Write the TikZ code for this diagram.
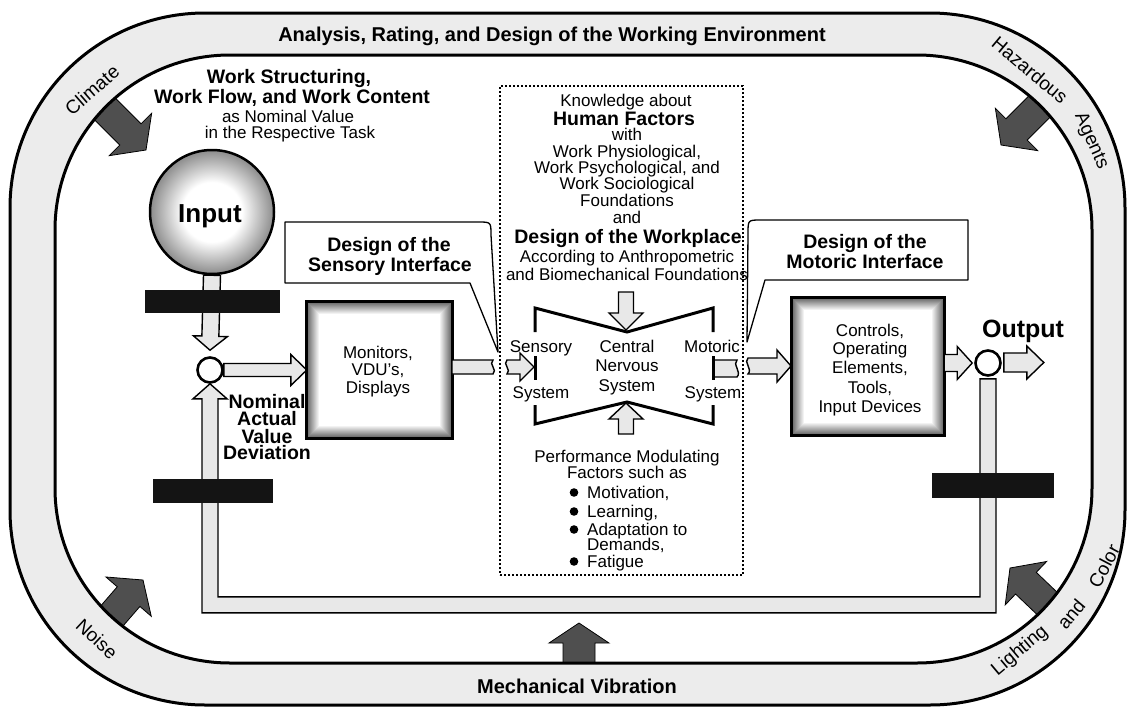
\documentclass[tikz,border=0pt]{standalone}
\usepackage{fontspec}
\setmainfont{Liberation Sans}
\usetikzlibrary{calc}
\definecolor{bandgray}{HTML}{ECECEC}
\definecolor{pipegray}{HTML}{E8E8E8}
\definecolor{darkfill}{HTML}{4F4F4F}
\newcommand\fsz[1]{\fontsize{#1}{#1}\selectfont}
\pgfdeclareradialshading{inshade}{\pgfpoint{0bp}{0bp}}{color(0bp)=(white); color(12bp)=(white); color(24bp)=(black!42); color(25bp)=(black!45); color(50bp)=(black!45)}
\newcommand\barrow[6][]{%
  \coordinate (baT) at (#2);
  \coordinate (baP) at (#3);
  \coordinate (baH) at ($(baP)!#6!(baT)$);
  \draw[#1] ($(baT)!#4!90:(baP)$) -- ($(baH)!#4!90:(baP)$) -- ($(baH)!#5!90:(baP)$) -- (baP) -- ($(baH)!#5!-90:(baP)$) -- ($(baH)!#4!-90:(baP)$) -- ($(baT)!#4!-90:(baP)$) -- cycle;}
\newcommand\glowbox[1]{%
  \foreach \i in {0,...,11}{%
    \pgfmathtruncatemacro\gv{60-5*\i}%
    \fill[black!\gv] ($(#1.north west)+(\i,\i)$) rectangle ($(#1.south east)+(-\i,-\i)$);}
  \fill[white] ($(#1.north west)+(12,12)$) rectangle ($(#1.south east)+(-12,-12)$);
  \draw[line width=3.2pt] (#1.north west) rectangle (#1.south east);}
\begin{document}
\begin{tikzpicture}[x=1pt,y=-1pt,
  reg/.style={inner sep=0pt, anchor=base, font=\fsz{17}},
  bld/.style={inner sep=0pt, anchor=base, font=\bfseries\fsz{19.5}},
  bwest/.style={inner sep=0pt, anchor=base west, font=\fsz{17}},
  envword/.style={inner sep=0pt, font=\fsz{19}},
  warrow/.style={fill=pipegray, draw=black, line width=1.4pt, line join=miter},
  darrow/.style={fill=darkfill, draw=black, line width=0.8pt, line join=miter},
  blackbar/.style={fill=black!92, draw=none, inner sep=0pt, rectangle},
  sumc/.style={circle, draw, line width=2.6pt, minimum size=25pt, inner sep=0pt, fill=white},
  heavy/.style={line width=3pt},
  callout/.style={draw, fill=white, line width=1.3pt, line join=round}]
\fill[white] (0,0) rectangle (1128,707);
\useasboundingbox (0,0) rectangle (1128,707);

% dark environment arrows (tails tucked under the band)
\barrow[darrow]{95,99}{146,150}{15pt}{30pt}{22pt}
\barrow[darrow]{1051,95}{1001,145}{15pt}{30pt}{22pt}
\barrow[darrow]{104,625}{143,580}{15pt}{30pt}{22pt}
\barrow[darrow]{1054,610}{1010,568}{15pt}{30pt}{22pt}
\barrow[darrow]{579,672}{579,623}{16pt}{30pt}{20pt}

% band
\path[fill=bandgray, even odd rule] [rounded corners=195pt] (10,13) rectangle (1125,705) [rounded corners=175pt] (55,55) rectangle (1092,663);
\draw[heavy, rounded corners=195pt] (10,13) rectangle (1125,705);
\draw[heavy, rounded corners=175pt] (55,55) rectangle (1092,663);

\node[bld, font=\bfseries\fsz{20}] (ttl) at (552,41) {Analysis, Rating, and Design of the Working Environment};
\node[bld, font=\bfseries\fsz{20}] (vib) at (577,693) {Mechanical Vibration};

\node[envword, rotate=41] (e1) at (92,90) {Climate};
\node[envword, rotate=-40] (e2) at (1030,70) {Hazardous};
\node[envword, rotate=-66] (e3) at (1091,141) {Agents};
\node[envword, rotate=-43] (e4) at (97,639) {Noise};
\node[envword, rotate=40] (e5) at (1020,651) {Lighting};
\node[envword, rotate=50] (e6) at (1071,614) {and};
\node[envword, rotate=62] (e7) at (1104,566) {Color};

% work structuring text
\node[bld] (ws1) at (289,83) {Work Structuring,};
\node[bld] (ws2) at (292,103) {Work Flow, and Work Content};
\node[reg] (ws3) at (288,122) {as Nominal Value};
\node[reg] (ws4) at (290,138) {in the Respective Task};

% nodes
\node[circle, minimum size=124pt, inner sep=0pt, shading=inshade, draw, line width=2.5pt] (inp) at (212,212) {};
\node[bld, font=\bfseries\fsz{26}] (inpt) at (210,222) {Input};
\node[sumc] (sum) at (210,370) {};
\node[sumc] (outc) at (988,363) {};
\node[minimum width=145pt, minimum height=136pt, inner sep=0pt] (mon) at (379.5,370) {};
\node[minimum width=152pt, minimum height=137pt, inner sep=0pt] (ctl) at (868,366.5) {};

% feedback pipe
\path (sum.south) ++(0,221) coordinate (fb1);
\draw[warrow] (sum.south) -- ++(17,15) -- ++(-9,0) -- ($(fb1)+(8,-8)$) -- ($(outc.south |- fb1)+(-8,-8)$) -- ($(outc.south)+(-8,2)$) -- ($(outc.south)+(8,2)$) -- ($(outc.south |- fb1)+(8,8)$) -- ($(fb1)+(-8,8)$) -- ($(sum.south)+(-8,15)$) -- ++(-9,0) -- cycle;

% input to comparator
\barrow[warrow]{inp.south}{$(sum.north)+(0,-6)$}{8.5pt}{17pt}{14pt}
\barrow[warrow]{sum.east}{mon.west}{6.5pt}{15.5pt}{16pt}

% black bars
\node[blackbar, minimum width=135pt, minimum height=23pt] (bar1) at (212.5,301.5) {};
\node[blackbar, minimum width=120pt, minimum height=24pt] (bar2) at (213,491) {};
\node[blackbar, minimum width=122pt, minimum height=25pt] (bar3) at (993,485.5) {};

% boxes
\glowbox{mon}
\glowbox{ctl}
\node[reg] (m1) at (378,358) {Monitors,};
\node[reg] (m2) at (378,375) {VDU's,};
\node[reg] (m3) at (378,393) {Displays};
\node[reg] (c1) at (870,336) {Controls,};
\node[reg] (c2) at (870,354) {Operating};
\node[reg] (c3) at (870,373) {Elements,};
\node[reg] (c4) at (870,393) {Tools,};
\node[reg] (c5) at (870,412) {Input Devices};

% callouts
\draw[callout] (285,222) -- (478,222) .. controls (491,222) .. (491,235) -- (498,352) -- (470,283) -- (285,283) -- cycle;
\node[bld] (sc1) at (389,251) {Design of the};
\node[bld] (sc2) at (390,271) {Sensory Interface};
\draw[callout] (968,220) -- (968,280) -- (765,280) -- (747,342) -- (748,233) .. controls (748,220) .. (761,220) -- cycle;
\node[bld] (mc1) at (865,248) {Design of the};
\node[bld] (mc2) at (865,268) {Motoric Interface};

% torn arrows
\draw[warrow] (452,360) -- (493,360) .. controls (488,364) and (498,370) .. (493,374) -- (452,374) -- cycle;
\draw[warrow] (507,360) .. controls (502,364) and (512,370) .. (507,374) -- (520,374) -- (520,381) -- (534,367) -- (520,353) -- (520,360) -- cycle;
\draw[warrow] (714,360) -- (737,360) .. controls (732,364) and (742,372) .. (737,377) -- (714,377) -- cycle;
\draw[warrow] (748,358) .. controls (743,362) and (753,369) .. (748,374) -- (777,374) -- (777,382) -- (791,366) -- (777,350) -- (777,358) -- cycle;
\barrow[warrow]{ctl.east |- outc}{$(outc.west)+(-2,0)$}{8.5pt}{16.5pt}{15pt}
\barrow[warrow]{$(outc.east)+(2,-0.5)$}{$(outc.east)+(42,-0.5)$}{9.5pt}{16.5pt}{17pt}

% dotted knowledge box
\node[draw, dash pattern=on 2pt off 2pt, line width=2.6pt, minimum width=243pt, minimum height=489pt, inner sep=0pt] (kn) at (621.5,330.5) {};

% central nervous system
\draw[heavy] (535,332) -- (535,308) -- (627,332) -- (713,308) -- (713,332);
\draw[heavy] (535,405) -- (535,424) -- (627,402) -- (713,424) -- (713,405);
\draw[heavy] (535,356) -- (535,380);
\draw[heavy] (713,356) -- (713,380);
\barrow[warrow]{626,292}{626,330}{7.5pt}{17pt}{17pt}
\barrow[warrow]{626,434}{626,403}{7.5pt}{17pt}{16pt}

\node[reg] (k1) at (626,106) {Knowledge about};
\node[bld] (k2) at (624,125) {Human Factors};
\node[reg] (k3) at (627,140) {with};
\node[reg] (k4) at (627,157) {Work Physiological,};
\node[reg] (k5) at (627,173) {Work Psychological, and};
\node[reg] (k6) at (627,189) {Work Sociological};
\node[reg] (k7) at (627,206) {Foundations};
\node[reg] (k8) at (627,223) {and};
\node[bld] (k9) at (628,243) {Design of the Workplace};
\node[reg] (k10) at (627,262) {According to Anthropometric};
\node[reg] (k11) at (627,280) {and Biomechanical Foundations};

\node[reg] (cn1) at (541,352) {Sensory};
\node[reg] (cn2) at (541,398) {System};
\node[reg] (cn3) at (627,352) {Central};
\node[reg] (cn4) at (627,371) {Nervous};
\node[reg] (cn5) at (627,391) {System};
\node[reg] (cn6) at (712,352) {Motoric};
\node[reg] (cn7) at (713,398) {System};

\node[reg] (p1) at (627,462) {Performance Modulating};
\node[reg] (p2) at (627,478) {Factors such as};
\foreach \y/\t [count=\n] in {498/{Motivation,}, 517/{Learning,}, 535/{Adaptation to}, 567/{Fatigue}}{
  \fill (574,\y-5.5) circle (4.3pt);
  \node[bwest] (b\n) at (587,\y) {\t};}
\node[bwest] (b5) at (587,550) {Demands,};

\node[bld] (n1) at (267,408) {Nominal};
\node[bld] (n2) at (267,425) {Actual};
\node[bld] (n3) at (267,443) {Value};
\node[bld] (n4) at (267,459) {Deviation};
\node[bld, font=\bfseries\fsz{25}] (outt) at (1023,337) {Output};
\end{tikzpicture}
\end{document}
